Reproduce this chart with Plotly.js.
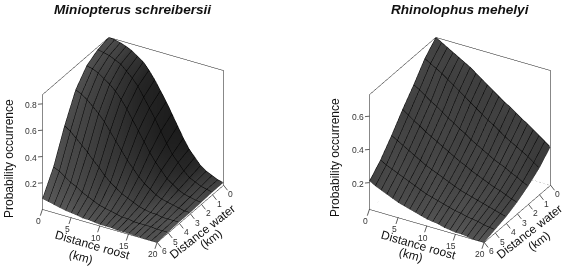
<!DOCTYPE html>
<html><head><meta charset="utf-8">
<script src="https://cdn.plot.ly/plotly-3.0.1.min.js"></script>
<style>html,body{margin:0;padding:0;background:#fff}#c{width:565px;height:269px}</style></head>
<body><div id="c"></div>
<script>
const roost=[0,1,2,3,4,5,6,7,8,9,10,11,12,13,14,15,16,17,18,19,20];
const water=[0,1,2,3,4,5,6];
const ticksRoost=[0,5,10,15,20];
const ticksWater=[0,1,2,3,4,5,6];
const ticksZA=[.2,.4,.6,.8], ticksZB=[.2,.4,.6];
const speciesA="Miniopterus schreibersii", speciesB="Rhinolophus mehelyi";
const labelY="Probability occurrence", labelRoost="Distance roost", labelWater="Distance water", labelKm="(km)";
const a0=[.87,.865,.855,.84,.82,.79,.76,.71,.65,.58,.51,.43,.35,.27,.20,.15,.10,.07,.05,.03,.02];
const a1=[.85,.84,.83,.81,.79,.75,.71,.66,.59,.52,.45,.37,.29,.22,.17,.12,.08,.06,.04,.03,.02];
const a2=[.80,.79,.77,.74,.71,.67,.62,.56,.49,.42,.35,.28,.22,.17,.12,.09,.06,.04,.03,.02,.015];
const a3=[.69,.67,.64,.60,.56,.51,.45,.39,.33,.27,.22,.17,.13,.10,.07,.05,.04,.03,.02,.01,.01];
const a4=[.49,.46,.42,.38,.34,.29,.25,.20,.16,.13,.10,.08,.06,.04,.03,.02,.02,.01,.01,.01,.01];
const a5=[.25,.23,.20,.17,.15,.12,.10,.08,.06,.05,.04,.03,.02,.02,.01,.01,.01,.01,.005,.005,.005];
const a6=[.08,.07,.06,.05,.04,.035,.03,.02,.02,.015,.01,.01,.01,.005,.005,.005,.003,.003,.002,.002,.002];
const b0=[.73,.71,.69,.67,.65,.63,.61,.585,.56,.535,.51,.485,.46,.44,.415,.39,.37,.345,.32,.295,.27];
const b1=[.66,.64,.62,.60,.575,.55,.525,.50,.475,.45,.425,.40,.38,.355,.33,.31,.29,.27,.25,.225,.20];
const b2=[.56,.54,.515,.49,.47,.445,.42,.40,.375,.355,.33,.31,.29,.27,.25,.235,.22,.20,.185,.165,.15];
const b3=[.47,.445,.42,.40,.375,.355,.335,.315,.295,.275,.255,.24,.22,.205,.19,.175,.16,.15,.135,.12,.11];
const b4=[.37,.35,.33,.31,.29,.27,.25,.235,.22,.205,.19,.175,.16,.15,.14,.13,.12,.11,.10,.09,.08];
const b5=[.28,.26,.245,.23,.215,.20,.185,.17,.155,.145,.135,.125,.115,.105,.10,.09,.085,.08,.07,.065,.06];
const b6=[.21,.19,.175,.16,.145,.13,.12,.11,.10,.09,.08,.075,.07,.06,.055,.05,.05,.045,.04,.04,.04];
const zA=[a0,a1,a2,a3,a4,a5,a6], zB=[b0,b1,b2,b3,b4,b5,b6];
const rangeA=[0,.87], rangeB=[.04,.73];

// Grey level of each grid point from the slope of the surface (persp-style shading).
function shade(z,zr){
  const H=z.length,W=z[0].length,span=zr[1]-zr[0];
  return z.map((row,j)=>row.map((v,i)=>{
    const i0=Math.max(i-1,0),i1=Math.min(i+1,W-1),j0=Math.max(j-1,0),j1=Math.min(j+1,H-1);
    const sx=-(z[j][i1]-z[j][i0])/(i1-i0)*(W-1)/span;
    const sy=-(z[j1][i]-z[j0][i])/(j1-j0)*(H-1)/span;
    const m=Math.hypot(sx,sy,1);
    return .255-.224*sx/m+.117*sy/m+.063/m;
  }));
}
function surf(z,zr,scene){return {type:'surface',scene,x:roost,y:water,z,showscale:false,
  surfacecolor:shade(z,zr),cmin:0,cmax:1,colorscale:[[0,'#000'],[1,'#fff']],
  lighting:{ambient:1,diffuse:0,specular:0,roughness:1,fresnel:0},
  contours:{x:{show:true,start:0,end:20,size:1,color:'#000',width:3},
            y:{show:true,start:0,end:6,size:1,color:'#000',width:5},z:{show:false}},
  hoverinfo:'skip'};}
function backEdge(xs,ys,zr,scene){return {type:'scatter3d',mode:'lines',scene,x:xs,y:ys,z:[zr[0],zr[0]],
  line:{color:'#777',width:1,dash:'dot'},hoverinfo:'skip',showlegend:false};}
function ax(extra){return Object.assign({showgrid:false,zeroline:false,showbackground:false,showspikes:false,
  showline:true,linecolor:'#111',linewidth:1,mirror:true,ticks:'',
  showticklabels:false,title:{text:''}},extra);}
const tickFont={family:'Liberation Sans',size:8.5,color:'#333'};
// Each tick label is a scene annotation anchored on the axis; its short leader is the tick mark.
function tick(x,y,z,text,dx,dy){return {x,y,z,text,ax:dx,ay:dy,showarrow:true,arrowhead:0,arrowwidth:.8,
  arrowcolor:'#333',standoff:0,borderpad:0,font:tickFont};}
function scene(domain,zr,zt){
  const anns=[
    ...ticksRoost.map(r=>tick(r,6,zr[0],String(r),-4,12)),
    ...ticksWater.map(w=>tick(20,w,zr[0],String(w),7,9)),
    ...zt.map(v=>tick(0,6,v,v.toFixed(1),-11,1))
  ];
  return {domain,aspectmode:'manual',aspectratio:{x:1.035,y:1.035,z:1.035},
  camera:{projection:{type:'orthographic'},up:{x:0,y:0,z:1},center:{x:0,y:0,z:0},eye:{x:1.06,y:-1.83,z:1.22}},
  xaxis:ax({range:[0,20],tickvals:ticksRoost}),
  yaxis:ax({range:[6,0],tickvals:ticksWater}),
  zaxis:ax({range:zr,tickvals:zt}),annotations:anns};}
function note(text,x,y,size,angle){return {text,x:x/565,y:1-y/269,xref:'paper',yref:'paper',showarrow:false,
  xanchor:'center',yanchor:'middle',textangle:angle||0,font:{family:'Liberation Sans',size,color:'#111'}};}
const dy=[.005,.955];
const layout={width:565,height:269,margin:{l:0,r:0,t:0,b:0},paper_bgcolor:'#fff',showlegend:false,
  scene:scene({x:[28/565,238/565],y:dy},rangeA,ticksZA),
  scene2:scene({x:[355/565,1],y:dy},rangeB,ticksZB),
  annotations:[
   note('<b><i>'+speciesA+'</i></b>',133,9,13.6),
   note('<b><i>'+speciesB+'</i></b>',460,9,13.6),
   note(labelY,9,159,12,-90), note(labelRoost,92,245,12,16), note(labelKm,81,257,12,16),
   note(labelWater,202,232,12,-38), note(labelKm,211,239,12,-38),
   note(labelY,335,158,12,-90), note(labelRoost,418,245,12,16), note(labelKm,411,255,12,16),
   note(labelWater,529,232,12,-38), note(labelKm,539,241,12,-38)
  ]};
Plotly.newPlot('c',[surf(zA,rangeA,'scene'),surf(zB,rangeB,'scene2'),
  backEdge([0,0],[6,0],rangeB,'scene2'),backEdge([0,20],[0,0],rangeB,'scene2')],layout,{displayModeBar:false});
</script></body></html>
